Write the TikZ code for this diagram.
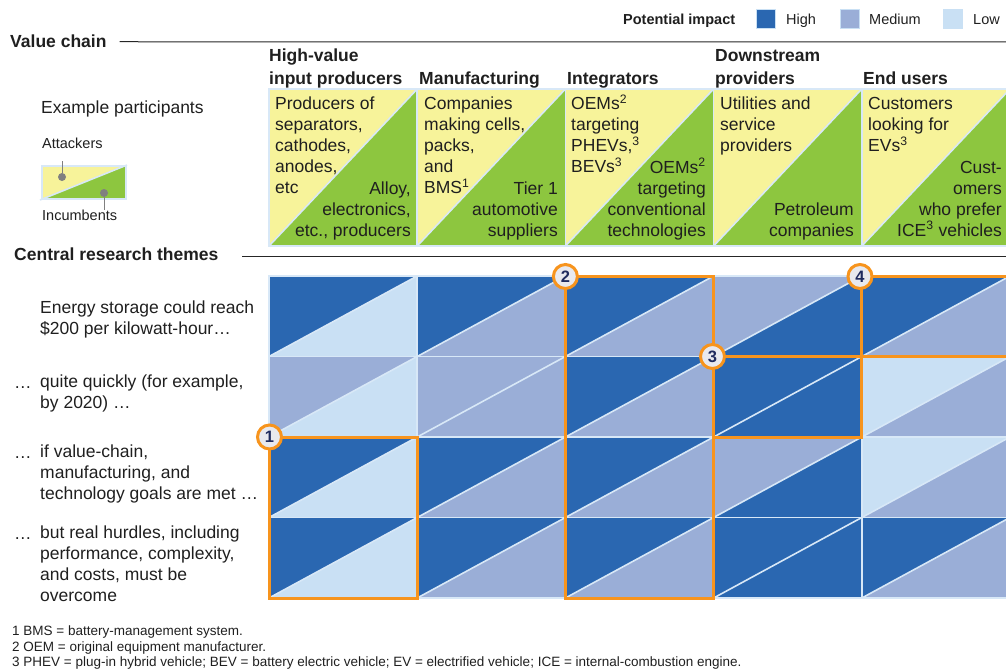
\documentclass[tikz,border=0pt]{standalone}
\usepackage{fontspec}
\setmainfont{Liberation Sans}
\usepackage{xcolor}
\usepackage{tikz}
\usetikzlibrary{calc}
\definecolor{hiblue}{HTML}{2A67B1}
\definecolor{mdblue}{HTML}{9AAED7}
\definecolor{loblue}{HTML}{C9E0F4}
\definecolor{edgeblue}{HTML}{D8E8F7}
\definecolor{myorange}{HTML}{F7941D}
\definecolor{myyellow}{HTML}{F7F39A}
\definecolor{mygreen}{HTML}{8DC63F}
\definecolor{badgegray}{HTML}{E8E9EE}
\definecolor{badgenavy}{HTML}{1F2B5E}
\definecolor{pingray}{HTML}{808080}
% footnote marks that do not push the lines apart
\newcommand\supnum[1]{\smash{\textsuperscript{#1}}}
\tikzset{
	every node/.style={text=black!88},
	body/.style={font=\fontsize{17.5}{21}\selectfont, inner sep=0pt, align=left},
	head/.style={font=\bfseries\fontsize{17.5}{23}\selectfont, inner sep=0pt, align=left, anchor=south west},
	legend/.style={font=\fontsize{14.5}{17}\selectfont, inner sep=0pt, anchor=base west},
	note/.style={font=\fontsize{13.5}{15.5}\selectfont, inner sep=0pt, anchor=base west},
	rule/.style={draw=black!85, line width=1pt},
	cellline/.style={draw=edgeblue, line width=1.6pt},
	focus/.style={draw=myorange, line width=3pt},
	badge/.style={circle, draw=myorange, line width=3pt, fill=badgegray, minimum size=24pt, inner sep=0pt, font=\bfseries\fontsize{16.5}{16.5}\selectfont, text=badgenavy},
	swatch/.style={draw=loblue, line width=0.8pt, minimum size=19pt, inner sep=0pt},
	pindot/.style={circle, fill=pingray, minimum size=8pt, inner sep=0pt},
	pinline/.style={draw=pingray, line width=1pt},
}

\begin{document}
\begin{tikzpicture}[x=1pt,y=-1pt]
		\clip (0,0) rectangle (1006,669);

		% legend
		\node[legend, font=\bfseries\fontsize{14.5}{17}\selectfont] (legtitle) at (623,25) {Potential impact};
		\node[swatch, fill=hiblue] (swhi) at (765.5,18.5) {};
		\node[legend] (leghi) at (786,25) {High};
		\node[swatch, fill=mdblue] (swmd) at (849.5,18.5) {};
		\node[legend] (legmd) at (869,25) {Medium};
		\node[swatch, fill=loblue] (swlo) at (952.5,18.5) {};
		\node[legend] (leglo) at (973,25) {Low};

		% value chain header
		\node[body, font=\bfseries\fontsize{17.5}{21}\selectfont, anchor=base west] (vchain) at (10,48) {Value chain};
		\coordinate (vcend) at (1006,42);
		\draw[rule] ($(vchain.east)+(13,0)$) -- (vcend);

		\node[head] (hd1) at (269,88) {High-value\\input producers};
		\node[head] (hd2) at (419,88) {Manufacturing};
		\node[head] (hd3) at (567,88) {Integrators};
		\node[head] (hd4) at (715,88) {Downstream\\providers};
		\node[head] (hd5) at (863,88) {End users\vphantom{p}};

		% participant boxes, attackers top left, incumbents bottom right
		\foreach \i in {0,...,4} {
			\pgfmathsetmacro\xa{269+148.2*\i}
			\pgfmathsetmacro\xb{\xa+148.2}
			\fill[myyellow] (\xa,89) -- (\xb,89) -- (\xa,246) -- cycle;
			\fill[mygreen] (\xb,89) -- (\xb,246) -- (\xa,246) -- cycle;
			\draw[cellline] (\xa,246) -- (\xb,89);
			\draw[cellline] (\xa,89) rectangle (\xb,246);
		}

		\node[body, anchor=north west] (att1) at (275,97) {Producers of\\separators,\\cathodes,\\anodes,\\etc};
		\node[body, anchor=south east, align=right] (inc1) at (411,240) {Alloy,\\electronics,\\etc., producers};
		\node[body, anchor=north west] (att2) at (424,97) {Companies\\making cells,\\packs,\\and\\BMS\supnum{1}};
		\node[body, anchor=south east, align=right] (inc2) at (558,240) {Tier 1\\automotive\\suppliers};
		\node[body, anchor=north west] (att3) at (571,97) {OEMs\supnum{2}\\targeting\\PHEVs,\supnum{3}\\BEVs\supnum{3}};
		\node[body, anchor=south east, align=right] (inc3) at (706,240) {OEMs\supnum{2}\\targeting\\conventional\\technologies};
		\node[body, anchor=north west] (att4) at (720,97) {Utilities and\\service\\providers};
		\node[body, anchor=south east, align=right] (inc4) at (854,240) {Petroleum\\companies};
		\node[body, anchor=north west] (att5) at (868,97) {Customers\\looking for\\EVs\supnum{3}};
		\node[body, anchor=south east, align=right] (inc5) at (1002,240) {Cust-\\omers\\who prefer\\ICE\supnum{3} vehicles\vphantom{p}};

		% key for the boxes
		\node[body, anchor=base west] (expart) at (41,113) {Example participants};
		\node[legend] (attk) at (42,148) {Attackers};
		\fill[myyellow] (42,166) -- (126,166) -- (42,199) -- cycle;
		\fill[mygreen] (126,166) -- (126,199) -- (42,199) -- cycle;
		\draw[cellline] (42,166) rectangle (126,199);
		\draw[cellline] (40,200) -- (127,165);
		\node[pindot] (adot) at (62,177) {};
		\coordinate (atip) at (62,161);
		\draw[pinline] (adot) -- (atip);
		\node[pindot] (idot) at (104,193) {};
		\coordinate (itip) at (104,210);
		\draw[pinline] (idot) -- (itip);
		\node[legend] (incb) at (42,220) {Incumbents};

		% research themes
		\node[body, font=\bfseries\fontsize{17.5}{21}\selectfont, anchor=base west] (crt) at (14,260) {Central research themes};
		\coordinate (crtend) at (1006,256);
		\draw[rule] (242,256) -- (crtend);

		\node[body, anchor=north west] (theme1) at (40,301) {Energy storage could reach\\\$200 per kilowatt-hour…};
		\node[body, anchor=north west] (theme2) at (40,375) {quite quickly (for example,\\by 2020) …};
		\node[body, anchor=north west] (theme3) at (40,445) {if value-chain,\\manufacturing, and\\technology goals are met …};
		\node[body, anchor=north west] (theme4) at (40,526) {but real hurdles, including\\performance, complexity,\\and costs, must be\\overcome};
		\node[body, anchor=base west] (dots2) at (14,388) {…};
		\node[body, anchor=base west] (dots3) at (14,458) {…};
		\node[body, anchor=base west] (dots4) at (14,539) {…};

		% impact grid: upper left / lower right triangle per cell
		\foreach \ul/\lr [count=\k from 0] in {
			hiblue/loblue, hiblue/mdblue, hiblue/mdblue, mdblue/hiblue, hiblue/mdblue,
			mdblue/loblue, mdblue/mdblue, hiblue/mdblue, hiblue/hiblue, loblue/mdblue,
			hiblue/loblue, hiblue/mdblue, hiblue/mdblue, mdblue/hiblue, loblue/mdblue,
			hiblue/loblue, hiblue/mdblue, hiblue/mdblue, hiblue/hiblue, hiblue/mdblue} {
			\pgfmathsetmacro\xa{269+148.2*mod(\k,5)}
			\pgfmathsetmacro\ya{276+80.5*div(\k,5)}
			\pgfmathsetmacro\xb{\xa+148.2}
			\pgfmathsetmacro\yb{\ya+80.5}
			\fill[\ul] (\xa,\ya) -- (\xb,\ya) -- (\xa,\yb) -- cycle;
			\fill[\lr] (\xb,\ya) -- (\xb,\yb) -- (\xa,\yb) -- cycle;
			\draw[cellline] (\xa,\yb) -- (\xb,\ya);
			\draw[cellline] (\xa,\ya) rectangle (\xb,\yb);
		}

		\draw[focus] (269,437) rectangle (417.2,598);
		\draw[focus] (565.4,276) rectangle (713.6,598);
		\draw[focus] (713.6,356.5) rectangle (861.8,437);
		\draw[focus] (861.8,276) rectangle (1012,356.5);
		\node[badge] (b1) at (269.5,437) {1};
		\node[badge] (b2) at (565.4,276.5) {2};
		\node[badge] (b3) at (712.5,356.5) {3};
		\node[badge] (b4) at (860,276.5) {4};

		% footnotes
		\node[note] (fn1) at (12,635.5) {1 BMS = battery-management system.};
		\node[note] (fn2) at (12,651.5) {2 OEM = original equipment manufacturer.};
		\node[note] (fn3) at (12,666.5) {3 PHEV = plug-in hybrid vehicle; BEV = battery electric vehicle; EV = electrified vehicle; ICE = internal-combustion engine.};
	\end{tikzpicture}
\end{document}
